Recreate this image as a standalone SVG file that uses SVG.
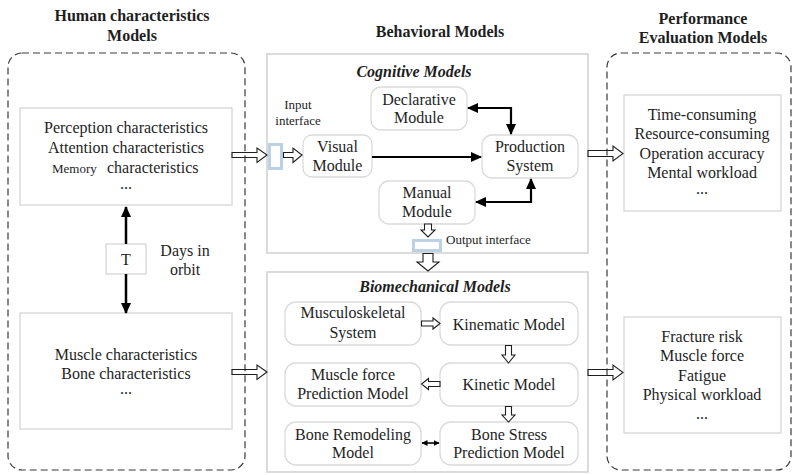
<svg xmlns="http://www.w3.org/2000/svg" width="794" height="475" viewBox="0 0 794 475">
  <style>
    text { font-family: "Liberation Serif", "Times New Roman", serif; fill: #1e1e1e; }
    .t { font-size: 16px; text-anchor: middle; }
    .small { font-size: 13px; }
    .title { font-size: 16px; font-weight: bold; text-anchor: middle; }
    .sub { font-size: 16px; font-weight: bold; font-style: italic; text-anchor: middle; }
    .group { fill: none; stroke: #3a3a3a; stroke-width: 1.2; stroke-dasharray: 7 4; }
    .panel { fill: #ffffff; stroke: #d2d2d2; stroke-width: 1.6; }
    .box { fill: #ffffff; stroke: #d6d6d6; stroke-width: 1.3; }
    .node { fill: #ffffff; stroke: #dadada; stroke-width: 1.3; }
    .iface { fill: #ffffff; stroke: #bcd0e6; stroke-width: 3; }
    .hollow { fill: none; stroke: #1e1e1e; stroke-width: 1.1; stroke-linejoin: miter; }
    .hollowf { fill: #ffffff; stroke: #1e1e1e; stroke-width: 1.1; stroke-linejoin: miter; }
    .link { fill: none; stroke: #000000; stroke-width: 2.2; }
    .thin { fill: none; stroke: #000000; stroke-width: 1.6; }
  </style>
  <defs>
    <marker id="head" viewBox="0 0 11 10" refX="10" refY="5" markerWidth="11" markerHeight="10" markerUnits="userSpaceOnUse" orient="auto-start-reverse">
      <path d="M0,0 L11,5 L0,10 z" fill="#000000"/>
    </marker>
    <marker id="headS" viewBox="0 0 6 6" refX="5.5" refY="3" markerWidth="6" markerHeight="6" markerUnits="userSpaceOnUse" orient="auto-start-reverse">
      <path d="M0,0 L6,3 L0,6 z" fill="#000000"/>
    </marker>
  </defs>

  <!-- column titles -->
  <g id="titles">
    <text class="title" x="132" y="21">Human characteristics</text>
    <text class="title" x="132" y="41">Models</text>
    <text class="title" x="440" y="37">Behavioral Models</text>
    <text class="title" x="703" y="24">Performance</text>
    <text class="title" x="703" y="43">Evaluation Models</text>
  </g>

  <!-- dashed grouping frames -->
  <g id="human-frame">
    <rect class="group" x="8" y="53" width="237" height="417" rx="14"/>
  </g>
  <g id="performance-frame">
    <rect class="group" x="607" y="53" width="184" height="417" rx="14"/>
  </g>

  <!-- behavioral panels -->
  <g id="cognitive-panel">
    <rect class="panel" x="267" y="54" width="321" height="199"/>
    <text class="sub" x="414" y="77">Cognitive Models</text>
  </g>
  <g id="biomechanical-panel">
    <rect class="panel" x="267" y="272" width="321" height="200"/>
    <text class="sub" x="435" y="292">Biomechanical Models</text>
  </g>

  <!-- human characteristics -->
  <g id="cognitive-traits">
    <rect class="box" x="20" y="108" width="212" height="97"/>
    <text class="t" x="126" y="133">Perception characteristics</text>
    <text class="t" x="126" y="153">Attention characteristics</text>
    <text x="52" y="173"><tspan style="font-size:13px">Memory</tspan><tspan x="107" style="font-size:16px">characteristics</tspan></text>
    <text class="t" x="126" y="189">...</text>
  </g>
  <g id="physical-traits">
    <rect class="box" x="20" y="313" width="212" height="116"/>
    <text class="t" x="126" y="359.5">Muscle characteristics</text>
    <text class="t" x="126" y="378.5">Bone characteristics</text>
    <text class="t" x="126" y="394">...</text>
  </g>
  <g id="time-factor">
    <rect class="box" x="106" y="244" width="40" height="30"/>
    <text class="t" x="126" y="264.5">T</text>
    <text class="t" x="185" y="256">Days in</text>
    <text class="t" x="185" y="275">orbit</text>
  </g>

  <!-- cognitive modules -->
  <g id="declarative">
    <rect class="node" x="371" y="87" width="96" height="43" rx="10"/>
    <text class="t" x="419" y="105">Declarative</text>
    <text class="t" x="419" y="123">Module</text>
  </g>
  <g id="visual">
    <rect class="node" x="303" y="135" width="69" height="42" rx="9"/>
    <text class="t" x="337.5" y="152">Visual</text>
    <text class="t" x="337.5" y="171">Module</text>
  </g>
  <g id="production">
    <rect class="node" x="482" y="135" width="96" height="43" rx="10"/>
    <text class="t" x="530" y="152">Production</text>
    <text class="t" x="530" y="171">System</text>
  </g>
  <g id="manual">
    <rect class="node" x="379" y="181" width="96" height="43" rx="10"/>
    <text class="t" x="427" y="198">Manual</text>
    <text class="t" x="427" y="217">Module</text>
  </g>
  <g id="input-interface">
    <rect class="iface" x="269.5" y="144.5" width="12" height="24"/>
    <text class="small" x="298" y="109" text-anchor="middle">Input</text>
    <text class="small" x="298" y="125" text-anchor="middle">interface</text>
  </g>
  <g id="output-interface">
    <rect class="iface" x="413.5" y="240.5" width="27" height="10"/>
    <text class="small" x="446" y="244">Output interface</text>
  </g>

  <!-- biomechanical models -->
  <g id="musculoskeletal">
    <rect class="node" x="285" y="302" width="136" height="43" rx="11"/>
    <text class="t" x="353" y="318">Musculoskeletal</text>
    <text class="t" x="353" y="337.5">System</text>
  </g>
  <g id="kinematic">
    <rect class="node" x="440" y="302" width="138" height="43" rx="11"/>
    <text class="t" x="509" y="329.5">Kinematic Model</text>
  </g>
  <g id="muscle-force">
    <rect class="node" x="285" y="363" width="136" height="43" rx="11"/>
    <text class="t" x="353" y="379.5">Muscle force</text>
    <text class="t" x="353" y="399">Prediction Model</text>
  </g>
  <g id="kinetic">
    <rect class="node" x="440" y="363" width="138" height="43" rx="11"/>
    <text class="t" x="509" y="389.5">Kinetic Model</text>
  </g>
  <g id="bone-remodeling">
    <rect class="node" x="285" y="422" width="136" height="43" rx="11"/>
    <text class="t" x="353" y="439.5">Bone Remodeling</text>
    <text class="t" x="353" y="458">Model</text>
  </g>
  <g id="bone-stress">
    <rect class="node" x="440" y="422" width="138" height="43" rx="11"/>
    <text class="t" x="509" y="439.5">Bone Stress</text>
    <text class="t" x="509" y="458">Prediction Model</text>
  </g>

  <!-- performance outputs -->
  <g id="cognitive-performance">
    <rect class="box" x="624" y="95" width="157" height="116"/>
    <text class="t" x="702" y="119.5">Time-consuming</text>
    <text class="t" x="702" y="139">Resource-consuming</text>
    <text class="t" x="702" y="158.5">Operation accuracy</text>
    <text class="t" x="702" y="178">Mental workload</text>
    <text class="t" x="702" y="194">...</text>
  </g>
  <g id="physical-performance">
    <rect class="box" x="624" y="317" width="157" height="116"/>
    <text class="t" x="702" y="341.5">Fracture risk</text>
    <text class="t" x="702" y="361">Muscle force</text>
    <text class="t" x="702" y="380.5">Fatigue</text>
    <text class="t" x="702" y="400">Physical workload</text>
    <text class="t" x="702" y="419">...</text>
  </g>

  <!-- connectors -->
  <g id="connectors">
    <!-- days-in-orbit link between trait boxes -->
    <line class="link" x1="126" y1="207" x2="126" y2="244" marker-start="url(#head)" style="stroke-width:2.5"/>
    <line class="link" x1="126" y1="274" x2="126" y2="313" marker-end="url(#head)" style="stroke-width:2.5"/>

    <!-- hollow block arrows into the behavioral panels -->
    <polygon class="hollow" points="232,152.5 257,152.5 257,148 267,155 257,162.5 257,157.5 232,157.5"/>
    <polygon class="hollow" points="232,369.5 257,369.5 257,365 267,372 257,379.5 257,374.5 232,374.5"/>
    <polygon class="hollowf" points="283.5,152.5 293,152.5 293,148 302,155 293,162.5 293,157.5 283.5,157.5"/>

    <!-- hollow block arrows out to the performance models -->
    <polygon class="hollow" points="588,150.5 613,150.5 613,146 623,153.5 613,161 613,156.5 588,156.5"/>
    <polygon class="hollow" points="588,369.5 613,369.5 613,365 623,372.5 613,380 613,375.5 588,375.5"/>

    <!-- output interface arrows -->
    <polygon class="hollowf" points="424.5,224 431.5,224 431.5,230 435,230 428,237 421,230 424.5,230"/>
    <polygon class="hollowf" points="423,253.5 433,253.5 433,262 439,262 428,271 417,262 423,262"/>

    <!-- cognitive module links -->
    <line class="link" x1="372" y1="157" x2="481" y2="157" marker-end="url(#head)"/>
    <polyline class="link" points="468,108 511,108 511,134" marker-start="url(#head)" marker-end="url(#head)"/>
    <polyline class="link" points="476,202 531,202 531,179" marker-start="url(#head)" marker-end="url(#head)"/>

    <!-- biomechanical flow -->
    <polygon class="hollowf" points="421.5,321 433,321 433,318 440,323.5 433,329 433,326 421.5,326"/>
    <polygon class="hollowf" points="505.5,345.5 511.5,345.5 511.5,355 515,355 508.5,363 502,355 505.5,355"/>
    <polygon class="hollowf" points="440,381.5 428.5,381.5 428.5,378.5 421.5,384 428.5,389.5 428.5,386.5 440,386.5"/>
    <polygon class="hollowf" points="505.5,406.5 511.5,406.5 511.5,415 515,415 508.5,422 502,415 505.5,415"/>
    <line class="thin" x1="422" y1="443" x2="439" y2="443" marker-start="url(#headS)" marker-end="url(#headS)"/>
  </g>
</svg>
